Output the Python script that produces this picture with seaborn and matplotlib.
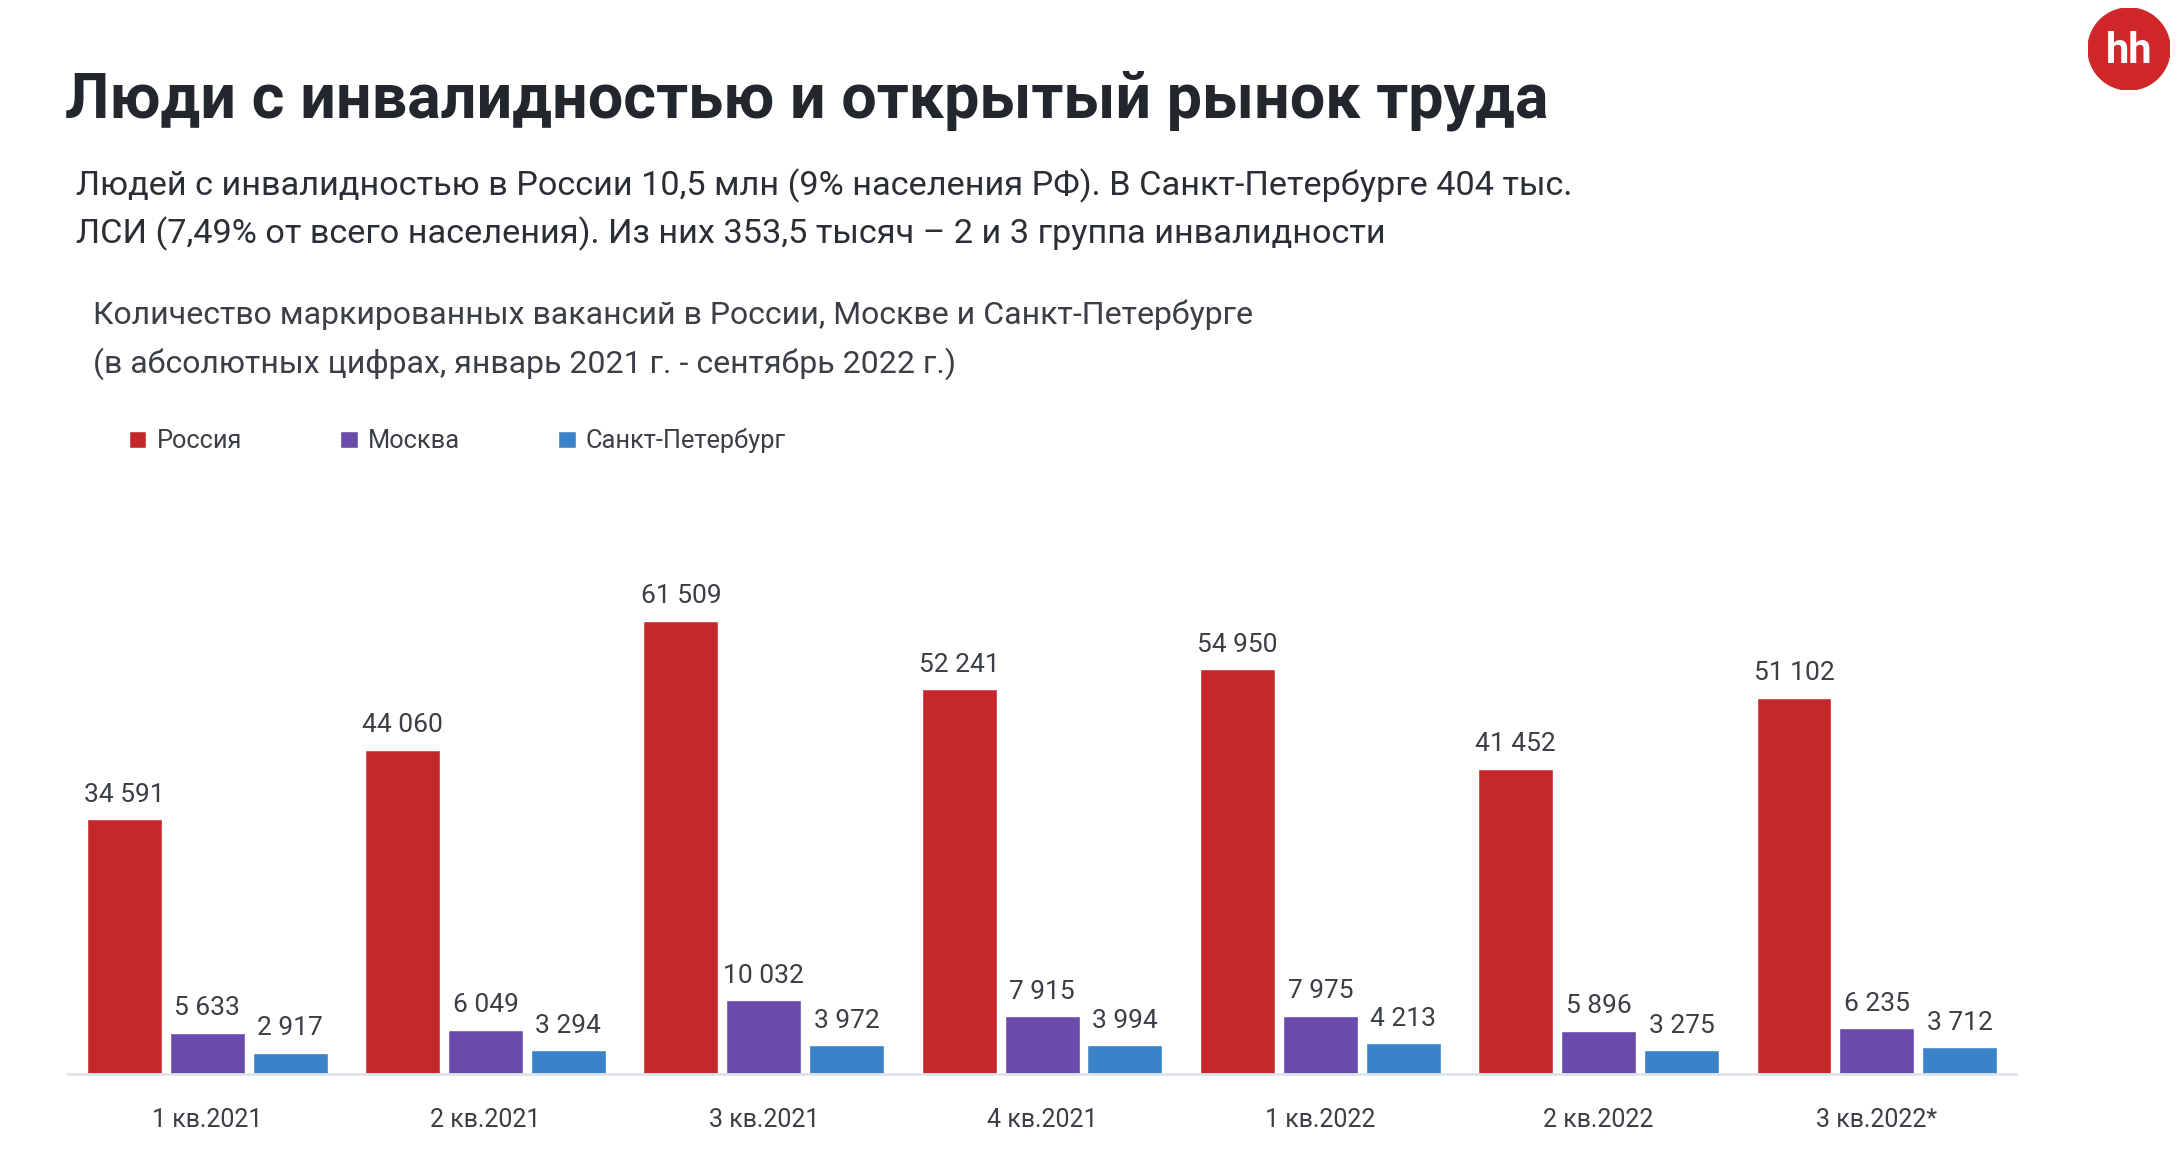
import pandas as pd
import matplotlib.pyplot as plt
import seaborn as sns
from matplotlib.patches import Circle

# Данные
quarters = ['1 кв.2021', '2 кв.2021', '3 кв.2021', '4 кв.2021',
            '1 кв.2022', '2 кв.2022', '3 кв.2022*']
russia = [34591, 44060, 61509, 52241, 54950, 41452, 51102]
moscow = [5633, 6049, 10032, 7915, 7975, 5896, 6235]
spb = [2917, 3294, 3972, 3994, 4213, 3275, 3712]
regions = ['Россия', 'Москва', 'Санкт-Петербург']
colors = ['#c4282b', '#6a4aab', '#3a83c9']

df = pd.DataFrame({
    'quarter': quarters * 3,
    'region': [regions[0]] * 7 + [regions[1]] * 7 + [regions[2]] * 7,
    'value': russia + moscow + spb,
})

sns.set_style('white')
plt.rcParams['font.family'] = ['Roboto', 'DejaVu Sans']

fig = plt.figure(figsize=(21.8, 11.51), dpi=100)
ax = fig.add_axes([0.0312, 0.0665, 0.8936, 0.4804])

sns.barplot(data=df, x='quarter', y='value', hue='region', palette=colors,
            width=0.894, gap=0.096, saturation=1, ax=ax, legend=True)

ax.set_xlim(-0.5, 6.5)
ax.set_ylim(0, 75000)
ax.set_xlabel('')
ax.set_ylabel('')
ax.set_yticks([])
sns.despine(ax=ax, left=True)
ax.spines['bottom'].set_color('#dfe3ea')
ax.spines['bottom'].set_linewidth(2)
ax.tick_params(axis='x', length=0, pad=24, labelsize=18, labelcolor='#3a3e45')

# подписи значений
for cont in ax.containers:
    vals = cont.datavalues
    ax.bar_label(cont, labels=[f'{int(v):,}'.replace(',', ' ') for v in vals],
                 padding=9, fontsize=19, color='#3a3e45')

# легенда
handles, labels = ax.get_legend_handles_labels()
ax.get_legend().remove()
fig.legend(handles, labels, loc='center left', bbox_to_anchor=(0.0485, 0.617),
           ncol=3, frameon=False, fontsize=18.3, handlelength=0.7, handleheight=0.7,
           handletextpad=0.4, columnspacing=3.85, labelcolor='#3a3e45')

# заголовки
fig.text(0.0298, 0.8975, 'Люди с инвалидностью и открытый рынок труда',
         fontsize=45.3, fontweight='bold', color='#22262d', va='baseline')
fig.text(0.0349, 0.8306,
         'Людей с инвалидностью в России 10,5 млн (9% населения РФ). В Санкт-Петербурге 404 тыс.',
         fontsize=24.7, color='#2a2e35', va='baseline')
fig.text(0.0349, 0.7889,
         'ЛСИ (7,49% от всего населения). Из них 353,5 тысяч – 2 и 3 группа инвалидности',
         fontsize=24.7, color='#2a2e35', va='baseline')
fig.text(0.0427, 0.7185,
         'Количество маркированных вакансий в России, Москве и Санкт-Петербурге',
         fontsize=23, color='#3a3e45', va='baseline')
fig.text(0.0427, 0.6764,
         '(в абсолютных цифрах, январь 2021 г. - сентябрь 2022 г.)',
         fontsize=23, color='#3a3e45', va='baseline')

# логотип hh
lax = fig.add_axes([2088 / 2180, 1 - 90 / 1151, 82 / 2180, 82 / 1151])
lax.set_xlim(0, 1)
lax.set_ylim(0, 1)
lax.axis('off')
lax.add_patch(Circle((0.5, 0.5), 0.5, color='#d0272b'))
lax.text(0.5, 0.47, 'hh', ha='center', va='center', color='white',
         fontsize=30, fontweight='bold')

fig.savefig('out.png', dpi=100)
